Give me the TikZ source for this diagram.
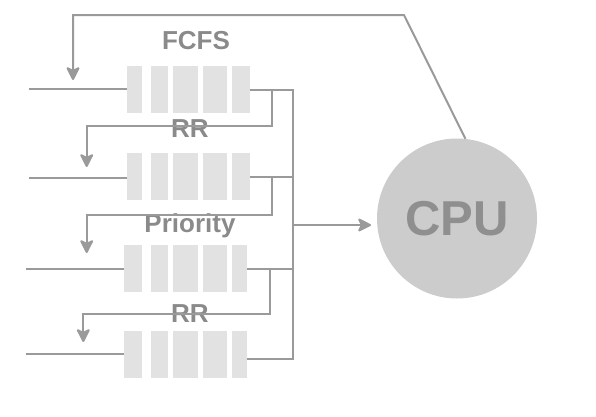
\documentclass[tikz,border=0pt]{standalone}
\usepackage{fontspec}
\setmainfont{Liberation Sans}
\usetikzlibrary{arrows.meta}
\definecolor{linegray}{HTML}{9A9A9A}
\definecolor{cellgray}{HTML}{E2E2E2}
\definecolor{cpugray}{HTML}{CCCCCC}
\definecolor{textgray}{HTML}{8A8A8A}
\begin{document}
\begin{tikzpicture}[x=1pt,y=-1pt,
  conn/.style={draw=linegray,line width=2pt},
  arr/.style={conn,-{Stealth[length=15pt,width=15pt,inset=3.5pt,round]}},
  cell/.style={fill=cellgray,draw=none},
  lbl/.style={font=\fontsize{26}{26}\selectfont\bfseries,text=textgray,inner sep=0pt},
  queue/.style={draw=none,minimum width=123pt,minimum height=47pt,inner sep=0pt}]
\useasboundingbox (0,0) rectangle (596,416);
% queues
\node[queue] (q1) at (188.5,89.5) {};
\node[queue] (q2) at (188.5,176.5) {};
\node[queue] (q3) at (185.5,268.5) {};
\node[queue] (q4) at (185.5,354) {};
% cells
\foreach \y in {66,153}{
  \fill[cell] (127,\y) rectangle (142,\y+47);
  \fill[cell] (151,\y) rectangle (168,\y+47);
  \fill[cell] (173,\y) rectangle (198,\y+47);
  \fill[cell] (203,\y) rectangle (227,\y+47);
  \fill[cell] (232,\y) rectangle (250,\y+47);
}
\foreach \y in {245,331}{
  \fill[cell] (124,\y) rectangle (142,\y+47);
  \fill[cell] (151,\y) rectangle (168,\y+47);
  \fill[cell] (173,\y) rectangle (198,\y+47);
  \fill[cell] (203,\y) rectangle (227,\y+47);
  \fill[cell] (232,\y) rectangle (247,\y+47);
}
% CPU
\node[circle,fill=cpugray,minimum size=160pt,inner sep=0pt,
  font=\fontsize{49}{49}\selectfont\bfseries,text={rgb,255:red,143;green,143;blue,143}] (cpu) at (457,218.5) {CPU};
% labels
\node[lbl] (l1) at (196,41) {FCFS};
\node[lbl] (l2) at (190,129) {RR};
\node[lbl] (l3) at (190,226) {Priority};
\node[lbl] (l4) at (190,314) {RR};
% coordinates
\coordinate (in1) at (29,88.7);
\coordinate (in2) at (29,177.7);
\coordinate (in3) at (26,269);
\coordinate (in4) at (26,354);
\coordinate (busT) at (293,90);
\coordinate (busB) at (293,359);
\coordinate (busM) at (293,225);
\coordinate (cpuin) at (371,225);
\coordinate (top) at (404,15);
% input lines
\draw[conn] (in1) -- (q1.west |- in1);
\draw[conn] (in2) -- (q2.west |- in2);
\draw[conn] (in3) -- (q3.west |- in3);
\draw[conn] (in4) -- (q4.west |- in4);
% outputs to bus
\draw[conn] (q1.east |- busT) -- (busT) -- (busB) -- (q4.east |- busB);
\draw[conn] (q2.east |- 0,176.7) -- (293,176.7);
\draw[conn] (q3.east) -- (293,268.5);
% bus to CPU
\draw[arr] (busM) -- (cpuin);
% feedback from CPU
\draw[arr] (cpu.84) -- (top) -- (73,15) -- (73,80);
% demotion lines
\draw[arr] (272,90) -- (272,125.7) -- (86.7,125.7) -- (86.7,167);
\draw[arr] (272,176.7) -- (272,215) -- (86.7,215) -- (86.7,253);
\draw[arr] (270,268.5) -- (270,314) -- (83.3,314) -- (83.3,342);
\end{tikzpicture}
\end{document}
